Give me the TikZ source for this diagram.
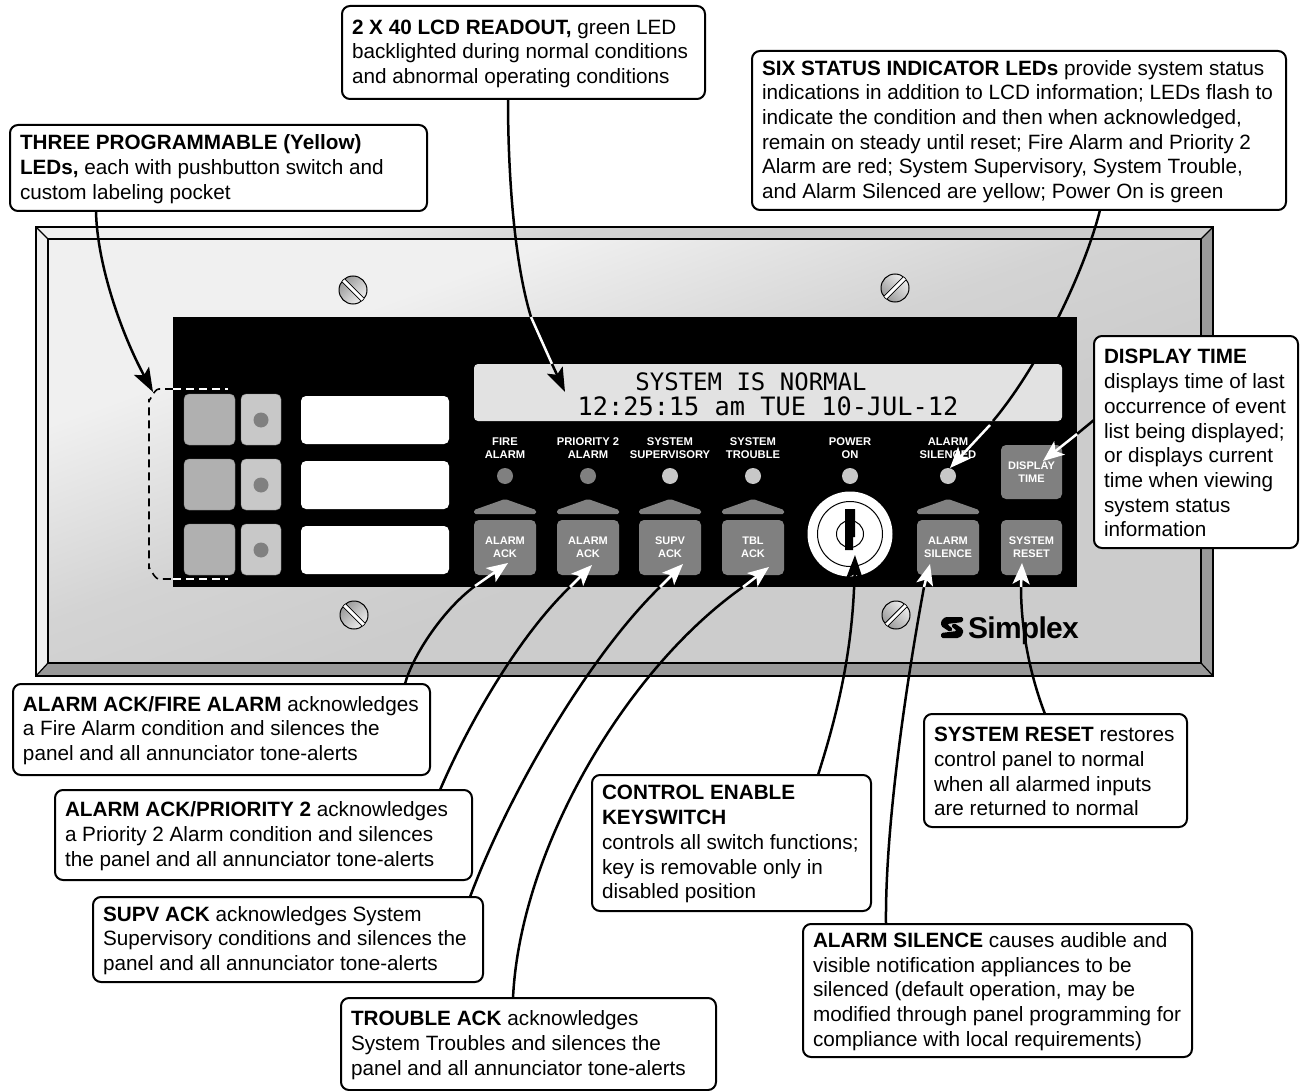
\documentclass[tikz,border=0pt]{standalone}
\usepackage{fontspec}
\setmainfont{Liberation Sans}
\newfontfamily\lcdfont{DejaVu Sans Mono}
\newfontfamily\logofont[LetterSpace=-2.5]{Liberation Sans}
\usetikzlibrary{arrows.meta,calc}
\definecolor{btngray}{HTML}{808080}
\definecolor{ledlight}{HTML}{C8C8C8}
\definecolor{padgray}{HTML}{B0B0B0}
\definecolor{lcdgray}{HTML}{E2E2E2}
\definecolor{bevelgray}{HTML}{999999}
\definecolor{bevellight}{HTML}{F0F0F0}
\definecolor{platedark}{HTML}{CCCCCC}
\pgfdeclarehorizontalshading{platefade}{100bp}{color(0bp)=(bevellight); color(32bp)=(bevellight); color(47bp)=(platedark!80!bevellight); color(58bp)=(platedark); color(100bp)=(platedark)}
\tikzset{
  callout/.style={draw,line width=2pt,rounded corners=8pt,fill=white,anchor=north west,align=flush left,
    inner xsep=10pt,inner ysep=0pt,outer sep=0pt,font=\fontsize{20.7}{24.7}\selectfont,
    execute at begin node={\rule{0pt}{17pt}}},
  blackline/.style={line width=2.5pt},
  blackarrow/.style={line width=2.5pt,-{Stealth[length=24pt,width=17pt,inset=5pt]}},
  whitearrow/.style={white,line width=2.5pt,-{Stealth[length=21pt,width=17pt,inset=5pt]}},
  dashline/.style={line width=1.6pt,dash pattern=on 8pt off 5pt},
  panelkey/.style={fill=btngray,rounded corners=5pt,text=white,align=center,
    font=\bfseries\fontsize{11}{13}\selectfont,inner sep=0pt},
  ledtext/.style={text=white,align=center,font=\bfseries\fontsize{11.2}{13}\selectfont,inner sep=0pt}
}
\begin{document}
\begin{tikzpicture}[x=1pt,y=-1pt]
\useasboundingbox (0,0) rectangle (1301,1091);
% plate and bevels
\fill[bevellight] (36,227) -- (48,239) -- (48,663) -- (36,676) -- cycle;
\fill[bevelgray] (1213,227) -- (1201,239) -- (1201,663) -- (1213,676) -- cycle;
\fill[bevelgray] (36,676) -- (48,663) -- (1201,663) -- (1213,676) -- cycle;
\path[shading=platefade,shading angle=-70] (36,227) -- (1213,227) -- (1201,239) -- (48,239) -- cycle;
\path[shading=platefade,shading angle=-70] (48,239) rectangle (1201,663);
\draw[line width=2pt] (36,227) rectangle (1213,676);
\draw[line width=1.4pt] (48,239) rectangle (1201,663);
\draw[line width=1.2pt] (36,227) -- (48,239) (1213,227) -- (1201,239) (36,676) -- (48,663) (1213,676) -- (1201,663);
% screws
\foreach \name/\sx/\sy/\ang in {sa/353/290/-45,sb/895/288/45,sc/354/615/-45,sd/896/615/45}{
  \node[circle,draw,line width=1pt,minimum size=28pt,inner sep=0pt,left color=bevelgray,right color=bevellight,shading angle=\ang+90] (\name) at (\sx,\sy) {};
  \draw[white,line width=3.4pt,rotate around={\ang:(\sx,\sy)}] (\sx-13.5,\sy) -- (\sx+13.5,\sy);
  \draw[line width=.8pt,rotate around={\ang:(\sx,\sy)}] (\sx-13.5,\sy-2) -- (\sx+13.5,\sy-2) (\sx-13.5,\sy+2) -- (\sx+13.5,\sy+2);
}
% black face
\fill (173,317) rectangle (1077,587);
% programmable rows
\foreach \row in {0,1,2}{
  \node[fill=padgray,draw=btngray,rounded corners=5pt,minimum width=51pt,minimum height=51pt,inner sep=0pt] (pad\row) at (209.5,419.5+65*\row) {};
  \node[fill=ledlight,draw=btngray,rounded corners=5pt,minimum width=40pt,minimum height=51pt,inner sep=0pt] (sw\row) at (261,419.5+65*\row) {};
  \node[circle,fill=btngray,minimum size=15pt,inner sep=0pt] (swled\row) at (261,420+65*\row) {};
  \node[fill=white,rounded corners=5pt,minimum width=148pt,minimum height=48pt,inner sep=0pt] (pocket\row) at (375,420+65*\row) {};
}
% dashed bracket
\draw[dashline] (173,389) -- (159,389) to[out=180,in=-90] (149,399) -- (149,569) to[out=90,in=180] (159,579) -- (173,579);
\draw[dashline,white] (173,389) -- (228,389);
\draw[dashline,white] (173,579) -- (228,579);
% readout
\node[fill=lcdgray,rounded corners=4pt,minimum width=588pt,minimum height=57pt,inner sep=0pt] (lcd) at (768,392.5) {};
\node[inner sep=0pt,anchor=base,font=\lcdfont\fontsize{24}{25}\selectfont] (lcdtop) at (751,390) {SYSTEM IS NORMAL};
\node[inner sep=0pt,anchor=base,font=\lcdfont\fontsize{25.3}{25}\selectfont] (lcdlow) at (768,415) {12:25:15 am TUE 10-JUL-12};
% leds, lamps and keys
\foreach \name/\cx/\ledtxt/\ledcol/\keytxt in {
  fire/505/{FIRE\\ALARM}/btngray/{ALARM\\ACK},
  prio/588/{PRIORITY 2\\ALARM}/btngray/{ALARM\\ACK},
  supv/670/{SYSTEM\\SUPERVISORY}/ledlight/{SUPV\\ACK},
  trbl/753/{SYSTEM\\TROUBLE}/ledlight/{TBL\\ACK},
  sil/948/{ALARM\\SILENCED}/ledlight/{ALARM\\SILENCE}}{
  \node[ledtext] (\name txt) at (\cx,448) {\ledtxt};
  \node[circle,fill=\ledcol,minimum size=16pt,inner sep=0pt] (\name led) at (\cx,476) {};
  \fill[btngray,rounded corners=1.5pt] (\cx-31,514) -- (\cx-31,510) -- (\cx,499) -- (\cx+31,510) -- (\cx+31,514) -- cycle;
  \node[panelkey,minimum width=62pt,minimum height=55pt] (\name key) at (\cx,547.5) {\keytxt};
}
\node[ledtext] (powertxt) at (850,448) {POWER\\ON};
\node[circle,fill=ledlight,minimum size=16pt,inner sep=0pt] (powerled) at (850,476) {};
\node[panelkey,minimum width=61pt,minimum height=54pt] (timekey) at (1031.5,472) {DISPLAY\\TIME};
\node[panelkey,minimum width=61pt,minimum height=55pt] (resetkey) at (1031.5,547.5) {SYSTEM\\RESET};
% keyswitch
\node[circle,fill=white,minimum size=85pt,inner sep=0pt] (lock) at (850,534) {};
\node[circle,draw,line width=1pt,minimum size=65pt,inner sep=0pt] (lockring) at (850,534) {};
\node[circle,draw,line width=1pt,minimum size=27pt,inner sep=0pt] (lockcore) at (850,534) {};
\fill (845,509) rectangle (855,537) (845,537) rectangle (853,550);
% logo
\node[inner sep=0pt,anchor=base west,font=\logofont\bfseries\fontsize{30}{30}\selectfont] (logo) at (968,638) {Simplex};
\fill[rounded corners=1.5pt] (963,617) -- (945,617) -- (941,621) -- (941,626) -- (950,632) -- (953,629) -- (947,624) -- (963,622) -- cycle;
\fill[rounded corners=1.5pt] (941,638) -- (959,638) -- (963,634) -- (963,629) -- (954,623) -- (951,626) -- (957,631) -- (941,633) -- cycle;
% callouts
\node[callout,text width=397pt,minimum height=86pt] (ledbox) at (10,125) {\textbf{THREE PROGRAMMABLE (Yellow)}\\\textbf{LEDs,} each with pushbutton switch and\\custom labeling pocket};
\node[callout,text width=343pt,minimum height=93pt] (lcdbox) at (342,6) {\textbf{2 X 40 LCD READOUT,} green LED\\backlighted during normal conditions\\and abnormal operating conditions};
\node[callout,text width=514pt,minimum height=159pt] (statbox) at (752,51) {\textbf{SIX STATUS INDICATOR LEDs} provide system status\\indications in addition to LCD information; LEDs flash to\\indicate the condition and then when acknowledged,\\remain on steady until reset; Fire Alarm and Priority 2\\Alarm are red; System Supervisory, System Trouble,\\and Alarm Silenced are yellow; Power On is green};
\node[callout,text width=184pt,minimum height=212pt] (timebox) at (1094,336) {\textbf{DISPLAY TIME}\\displays time of last\\occurrence of event\\list being displayed;\\or displays current\\time when viewing\\system status\\information};
\node[callout,text width=397pt,minimum height=91pt] (firebox) at (13,684) {\textbf{ALARM ACK/FIRE ALARM} acknowledges\\a Fire Alarm condition and silences the\\panel and all annunciator tone-alerts};
\node[callout,text width=397pt,minimum height=90pt] (priobox) at (55,790) {\textbf{ALARM ACK/PRIORITY 2} acknowledges\\a Priority 2 Alarm condition and silences\\the panel and all annunciator tone-alerts};
\node[callout,text width=370pt,minimum height=85pt] (supvbox) at (93,897) {\textbf{SUPV ACK} acknowledges System\\Supervisory conditions and silences the\\panel and all annunciator tone-alerts};
\node[callout,text width=355pt,minimum height=92pt] (trblbox) at (341,998) {\textbf{TROUBLE ACK} acknowledges\\System Troubles and silences the\\panel and all annunciator tone-alerts};
\node[callout,text width=259pt,minimum height=136pt] (keybox) at (592,775) {\textbf{CONTROL ENABLE}\\\textbf{KEYSWITCH}\\controls all switch functions;\\key is removable only in\\disabled position};
\node[callout,text width=243pt,minimum height=113pt] (resetbox) at (924,714) {\textbf{SYSTEM RESET} restores\\control panel to normal\\when all alarmed inputs\\are returned to normal};
\node[callout,text width=369pt,minimum height=133pt] (silbox) at (803,924) {\textbf{ALARM SILENCE} causes audible and\\visible notification appliances to be\\silenced (default operation, may be\\modified through panel programming for\\compliance with local requirements)};
% free ends
\coordinate (ledtip) at (153,392);
\coordinate (lcdedge) at (531,317);
\coordinate (lcdface) at (552,364);
\coordinate (lcdtip) at (565,392);
\coordinate (statface) at (993,421);
\coordinate (statedge) at (990,425);
\coordinate (stattip) at (950,468);
\coordinate (timeedge) at (1077,434);
\coordinate (timetip) at (1043,461);
\coordinate (fireedge) at (475,586);
\coordinate (firetip) at (508,563);
\coordinate (prioedge) at (570,587);
\coordinate (priotip) at (592,565);
\coordinate (supvedge) at (660,587);
\coordinate (supvtip) at (683,564);
\coordinate (trbledge) at (743,587);
\coordinate (trbltip) at (769,567);
\coordinate (keytip) at (855,555);
\coordinate (siledge) at (924,587);
\coordinate (siltip) at (930,564);
\coordinate (resetedge) at (1021,587);
\coordinate (resettip) at (1022,563);
% connectors
\draw[blackarrow] ($(ledbox.south west)+(86,0)$) .. controls (97,265) and (122,335) .. (ledtip);
\draw[blackline] ($(lcdbox.south west)+(166,0)$) .. controls (508,180) and (515,265) .. (lcdedge);
\draw[white,line width=2.5pt] (lcdedge) -- (lcdface);
\draw[blackarrow] (lcdface) -- (lcdtip);
\draw[blackline] ($(statbox.south west)+(348,0)$) .. controls (1085,270) and (1040,365) .. (statface);
\draw[whitearrow] (statedge) -- (stattip);
\draw[blackline] ($(timebox.north west)+(0,84)$) -- (timeedge);
\draw[whitearrow] (timeedge) -- (timetip);
\draw[blackline] ($(firebox.north west)+(392,0)$) .. controls (411,660) and (440,612) .. (fireedge);
\draw[whitearrow] (fireedge) -- (firetip);
\draw[blackline] ($(priobox.north west)+(385,0)$) .. controls (470,720) and (520,635) .. (prioedge);
\draw[whitearrow] (prioedge) -- (priotip);
\draw[blackline] ($(supvbox.north west)+(377,0)$) .. controls (510,790) and (590,655) .. (supvedge);
\draw[whitearrow] (supvedge) -- (supvtip);
\draw[blackline] ($(trblbox.north west)+(172,0)$) .. controls (520,850) and (625,670) .. (trbledge);
\draw[whitearrow] (trbledge) -- (trbltip);
\draw[blackarrow] ($(keybox.north west)+(226,0)$) .. controls (842,700) and (853,640) .. (keytip);
\draw[blackline] ($(silbox.north west)+(83,0)$) .. controls (885,830) and (905,690) .. (siledge);
\draw[whitearrow] (siledge) -- (siltip);
\draw[blackline] ($(resetbox.north west)+(121,0)$) .. controls (1030,675) and (1021,630) .. (resetedge);
\draw[whitearrow] (resetedge) -- (resettip);
\end{tikzpicture}
\end{document}
